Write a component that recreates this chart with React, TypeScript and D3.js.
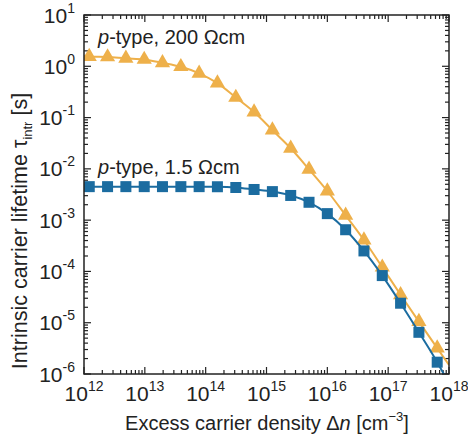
import React from "react";
import * as d3 from "d3";

const W = 468;
const H = 437;

// Excess carrier density sample points [cm^-3]
const densities = [
  1.22e12, 2.44e12, 4.88e12, 9.77e12, 1.95e13, 3.91e13, 7.81e13, 1.56e14,
  3.13e14, 6.25e14, 1.25e15, 2.5e15, 5e15, 1e16, 2e16, 4e16, 8e16, 1.6e17,
  3.2e17, 6.4e17,
];

// p-type, 200 Ωcm (triangles)
const tau200 = [
  1.55, 1.52, 1.43, 1.36, 1.17, 0.98, 0.73, 0.47, 0.247, 0.128, 0.057, 0.0252,
  0.0098, 0.0037, 0.00124, 4.1e-4, 1.21e-4, 3.5e-5, 1.05e-5, 3.2e-6,
];

// p-type, 1.5 Ωcm (squares)
const tau15 = [
  4.5e-3, 4.5e-3, 4.5e-3, 4.5e-3, 4.5e-3, 4.5e-3, 4.5e-3, 4.48e-3, 4.33e-3,
  3.96e-3, 3.6e-3, 3.03e-3, 2.23e-3, 1.34e-3, 6.5e-4, 2.51e-4, 8.3e-5, 2.4e-5,
  6.5e-6, 1.7e-6,
];

// model-curve ends (lines run across the whole frame)
const lineEndsX = [1e12, 1e18];
const line200Ends = [1.58, 1.5e-6];
const line15Ends = [4.5e-3, 6.5e-7];

const xTickExps = [12, 13, 14, 15, 16, 17, 18];
const yTickExps = [1, 0, -1, -2, -3, -4, -5, -6];

const ORANGE = "#EEB04A";
const BLUE = "#1B6CA0";
const FONT = "'Liberation Sans', Arial, Helvetica, sans-serif";

export default function App() {
  const left = 84, right = 449, top = 15, bottom = 374;
  const x = d3.scaleLog().domain([1e12, 1e18]).range([left, right]);
  const y = d3.scaleLog().domain([1e-6, 1e1]).range([bottom, top]);

  const build = (vals: number[], ends: number[]) => {
    const pts: [number, number][] = [[lineEndsX[0], ends[0]]];
    densities.forEach((d, i) => pts.push([d, vals[i]]));
    pts.push([lineEndsX[1], ends[1]]);
    return pts;
  };
  const line = d3
    .line<[number, number]>()
    .x((d) => x(d[0]))
    .y((d) => y(d[1]))
    .curve(d3.curveMonotoneX);

  const tri = d3.symbol().type(d3.symbolTriangle).size(100)() as string;

  // ticks
  const xMajor = xTickExps.map((e) => Math.pow(10, e));
  const xMinor: number[] = [];
  for (let e = 12; e < 18; e++) for (let m = 2; m <= 9; m++) xMinor.push(m * Math.pow(10, e));
  const yMajor = yTickExps.map((e) => Math.pow(10, e));
  const yMinor: number[] = [];
  for (let e = -6; e < 1; e++) for (let m = 2; m <= 9; m++) yMinor.push(m * Math.pow(10, e));

  const majL = 7, minL = 4;
  const tickColor = "#222";

  return (
    <svg
      width={W}
      height={H}
      style={{ position: "absolute", left: 0, top: 0, background: "#fff" }}
      fontFamily={FONT}
    >
      <defs>
        <clipPath id="plotclip">
          <rect x={left} y={top} width={right - left} height={bottom - top} />
        </clipPath>
      </defs>
      <rect x={0} y={0} width={W} height={H} fill="#fff" />

      {/* ticks */}
      <g stroke={tickColor} strokeWidth={1.2}>
        {xMajor.map((v, i) => (
          <g key={"xM" + i}>
            <line x1={x(v)} x2={x(v)} y1={bottom} y2={bottom - majL} />
            <line x1={x(v)} x2={x(v)} y1={top} y2={top + majL} />
          </g>
        ))}
        {xMinor.map((v, i) => (
          <g key={"xm" + i}>
            <line x1={x(v)} x2={x(v)} y1={bottom} y2={bottom - minL} />
            <line x1={x(v)} x2={x(v)} y1={top} y2={top + minL} />
          </g>
        ))}
        {yMajor.map((v, i) => (
          <g key={"yM" + i}>
            <line x1={left} x2={left + majL} y1={y(v)} y2={y(v)} />
            <line x1={right} x2={right - majL} y1={y(v)} y2={y(v)} />
          </g>
        ))}
        {yMinor.map((v, i) => (
          <g key={"ym" + i}>
            <line x1={left} x2={left + minL} y1={y(v)} y2={y(v)} />
            <line x1={right} x2={right - minL} y1={y(v)} y2={y(v)} />
          </g>
        ))}
      </g>

      {/* data */}
      <g clipPath="url(#plotclip)">
        <path d={line(build(tau200, line200Ends)) || ""} fill="none" stroke={ORANGE} strokeWidth={2} />
        {densities.map((d, i) => (
          <path key={"t" + i} d={tri} transform={`translate(${x(d)},${y(tau200[i])})`} fill={ORANGE} />
        ))}
        <path d={line(build(tau15, line15Ends)) || ""} fill="none" stroke={BLUE} strokeWidth={2} />
        {densities.map((d, i) => (
          <rect key={"s" + i} x={x(d) - 5.5} y={y(tau15[i]) - 5.5} width={11} height={11} fill={BLUE} />
        ))}
      </g>

      {/* frame */}
      <rect x={left} y={top} width={right - left} height={bottom - top} fill="none" stroke={tickColor} strokeWidth={1.5} />

      {/* x tick labels */}
      {xTickExps.map((e) => (
        <text key={"xl" + e} x={x(Math.pow(10, e))} y={401} textAnchor="middle" fontSize={21} fill="#222">
          10<tspan dy={-10} fontSize={14}>{e}</tspan>
        </text>
      ))}
      {/* y tick labels */}
      {yTickExps.map((e) => (
        <text key={"yl" + e} x={75} y={y(Math.pow(10, e)) + 7.5} textAnchor="end" fontSize={21} fill="#222">
          10<tspan dy={-10} fontSize={14}>{e}</tspan>
        </text>
      ))}

      {/* annotations */}
      <text x={98} y={44} fontSize={20} fill="#222">
        <tspan fontStyle="italic">p</tspan>-type, 200 Ωcm
      </text>
      <text x={98} y={174} fontSize={20} fill="#222">
        <tspan fontStyle="italic">p</tspan>-type, 1.5 Ωcm
      </text>

      {/* axis titles */}
      <text x={267} y={430} textAnchor="middle" fontSize={20} fill="#222">
        Excess carrier density Δ<tspan fontStyle="italic">n</tspan> [cm<tspan dy={-9} fontSize={13}>−3</tspan>
        <tspan dy={9}>]</tspan>
      </text>
      <text transform={`translate(27,231) rotate(-90)`} textAnchor="middle" fontSize={21.5} fill="#222">
        Intrinsic carrier lifetime τ<tspan dy={5} fontSize={13}>intr</tspan>
        <tspan dy={-5}> [s]</tspan>
      </text>
    </svg>
  );
}
